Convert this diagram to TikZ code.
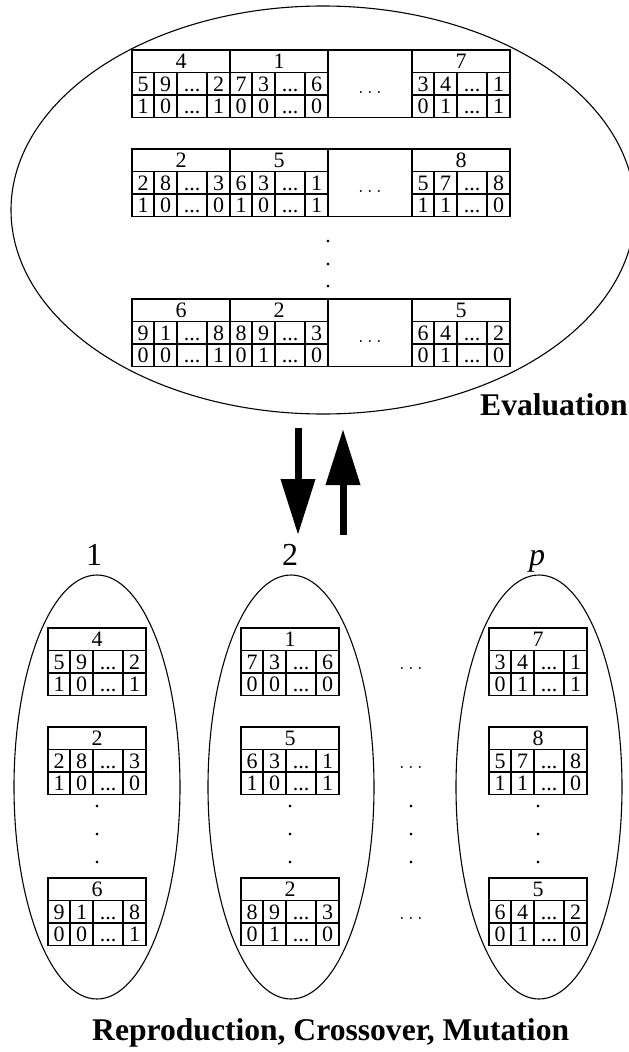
\documentclass[tikz,border=0pt]{standalone}
\usepackage{fontspec}
\setmainfont{Liberation Serif}
\usetikzlibrary{shapes.geometric,arrows.meta}
\newcommand\cellfont{\fontsize{22}{24}\selectfont}
\newcommand\bigfont{\fontsize{31.6}{36}\selectfont}
\newcommand\labfont{\fontsize{32}{36}\selectfont}
\tikzset{
  cell/.style={draw, line width=1.2pt, inner sep=0pt, outer sep=0pt,
    minimum height=22.5pt, text height=14.6pt, text depth=0pt,
    font=\cellfont, anchor=north west},
  pop/.style={draw, ellipse, line width=1.1pt, inner sep=0pt},
  vdot/.style={inner sep=0pt, font=\cellfont},
  hdots/.style={inner sep=0pt, font=\cellfont},
  bigarrow/.style={line width=7pt, -{Triangle[length=56pt,width=33pt]}},
}
% #1 x, #2 y, #3 header, #4-#6 first row, #7-#9 second row
\newcommand\chrom[9]{%
  \node[cell, minimum width=98pt] (h-#1-#2) at (#1,#2) {#3};
  \node[cell, minimum width=22pt] (a-#1-#2) at (#1,#2+22.5) {#4};
  \node[cell, minimum width=23pt] (b-#1-#2) at (#1+22,#2+22.5) {#5};
  \node[cell, minimum width=30pt] (c-#1-#2) at (#1+45,#2+22.5) {...};
  \node[cell, minimum width=23pt] (d-#1-#2) at (#1+75,#2+22.5) {#6};
  \node[cell, minimum width=22pt] (e-#1-#2) at (#1,#2+45) {#7};
  \node[cell, minimum width=23pt] (f-#1-#2) at (#1+22,#2+45) {#8};
  \node[cell, minimum width=30pt] (g-#1-#2) at (#1+45,#2+45) {...};
  \node[cell, minimum width=23pt] (k-#1-#2) at (#1+75,#2+45) {#9};
}
\newcommand\midbox[1]{%
  \node[cell, minimum width=84pt, minimum height=67.5pt] (m-#1) at (328,#1) {};
  \node[hdots] (md-#1) at (370,#1+42) {$\ldots$};
}
\begin{document}
\begin{tikzpicture}[x=1pt,y=-1pt]
\useasboundingbox (0,0) rectangle (629,1052);
\clip (0,0) rectangle (629,1052);

% top population (evaluation)
\node[pop, minimum width=624pt, minimum height=408pt] (evalpop) at (323,210) {};
\chrom{132}{50}{4}{5}{9}{2}{1}{0}{1}
\chrom{230}{50}{1}{7}{3}{6}{0}{0}{0}
\midbox{50}
\chrom{412}{50}{7}{3}{4}{1}{0}{1}{1}
\chrom{132}{149}{2}{2}{8}{3}{1}{0}{0}
\chrom{230}{149}{5}{6}{3}{1}{1}{0}{1}
\midbox{149}
\chrom{412}{149}{8}{5}{7}{8}{1}{1}{0}
\chrom{132}{299}{6}{9}{1}{8}{0}{0}{1}
\chrom{230}{299}{2}{8}{9}{3}{0}{1}{0}
\midbox{299}
\chrom{412}{299}{5}{6}{4}{2}{0}{1}{0}
\node[vdot] (tv1) at (328,242) {.};
\node[vdot] (tv2) at (328,265) {.};
\node[vdot] (tv3) at (328,287) {.};
\node[inner sep=0pt, font=\bigfont\bfseries, anchor=base west] (evallab) at (480,415) {Evaluation};

% arrows
\coordinate (d1) at (298,428);
\coordinate (d2) at (298,535);
\coordinate (u1) at (343,535);
\coordinate (u2) at (343,429);
\draw[bigarrow] (d1) -- (d2);
\draw[bigarrow] (u1) -- (u2);

% bottom populations
\node[font=\labfont, inner sep=0pt, anchor=base] (l1) at (94,565) {1};
\node[font=\labfont, inner sep=0pt, anchor=base] (l2) at (290,565) {2};
\node[font=\labfont, inner sep=0pt, anchor=base] (lp) at (537,565) {\textit{p}};
\node[pop, minimum width=166pt, minimum height=424pt] (p1) at (97,787) {};
\node[pop, minimum width=166pt, minimum height=424pt] (p2) at (291,787) {};
\node[pop, minimum width=166pt, minimum height=424pt] (pp) at (539,787) {};

\chrom{48}{628}{4}{5}{9}{2}{1}{0}{1}
\chrom{48}{727}{2}{2}{8}{3}{1}{0}{0}
\chrom{48}{878}{6}{9}{1}{8}{0}{0}{1}
\chrom{241}{628}{1}{7}{3}{6}{0}{0}{0}
\chrom{241}{727}{5}{6}{3}{1}{1}{0}{1}
\chrom{241}{878}{2}{8}{9}{3}{0}{1}{0}
\chrom{489}{628}{7}{3}{4}{1}{0}{1}{1}
\chrom{489}{727}{8}{5}{7}{8}{1}{1}{0}
\chrom{489}{878}{5}{6}{4}{2}{0}{1}{0}

\foreach \xx/\nm in {97/a,290/b,411/c,538/d}{
  \node[vdot] (bv1-\nm) at (\xx,807) {.};
  \node[vdot] (bv2-\nm) at (\xx,835) {.};
  \node[vdot] (bv3-\nm) at (\xx,863) {.};
}
\node[hdots] (bh1) at (411,668) {$\ldots$};
\node[hdots] (bh2) at (411,767) {$\ldots$};
\node[hdots] (bh3) at (411,918) {$\ldots$};

\node[inner sep=0pt, font=\bigfont\bfseries, anchor=base west] (reprolab) at (92,1040) {Reproduction, Crossover, Mutation};
\end{tikzpicture}
\end{document}
